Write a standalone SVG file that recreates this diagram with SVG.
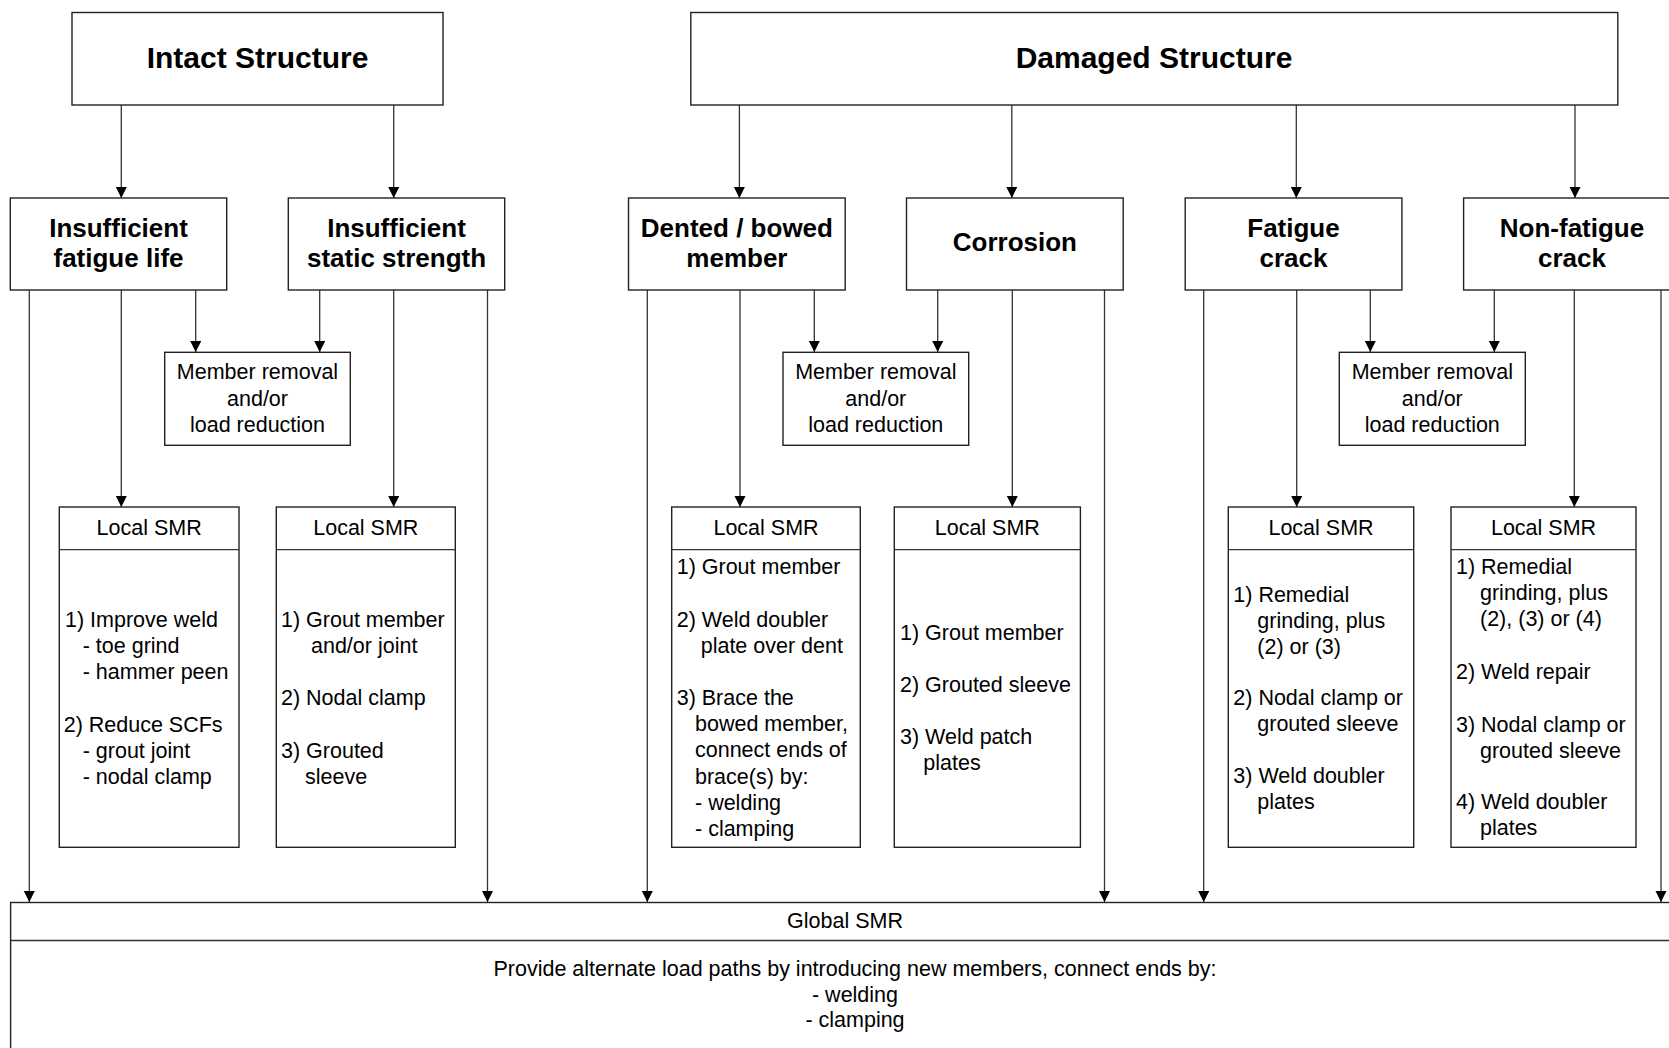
<svg xmlns="http://www.w3.org/2000/svg" width="1669" height="1048" viewBox="0 0 1669 1048">
<style>
.box{fill:#fff;stroke:#222;stroke-width:1.4}
.ln{stroke:#333;stroke-width:1.3;fill:none}
.t{font-family:"Liberation Sans",Arial,sans-serif;font-size:21.5px;fill:#000}
.c{text-anchor:middle}
.b{font-weight:bold;font-size:26px;text-anchor:middle}
.h{font-weight:bold;font-size:30px;text-anchor:middle}
</style>
<defs>
<marker id="arr" markerUnits="userSpaceOnUse" markerWidth="12" markerHeight="12" refX="11" refY="5.5" orient="auto">
<path d="M0,0 L11,5.5 L0,11 z" fill="#000"/>
</marker>
</defs>
<rect width="1669" height="1048" fill="#fff"/>

<g id="connectors" class="ln" marker-end="url(#arr)">
<line x1="121.3" y1="105" x2="121.3" y2="198"/>
<line x1="393.7" y1="105" x2="393.7" y2="198"/>
<line x1="739.4" y1="105" x2="739.4" y2="198"/>
<line x1="1011.8" y1="105" x2="1011.8" y2="198"/>
<line x1="1296.3" y1="105" x2="1296.3" y2="198"/>
<line x1="1575" y1="105" x2="1575" y2="198"/>
<line x1="29.3" y1="290" x2="29.3" y2="902"/>
<line x1="121.3" y1="290" x2="121.3" y2="507"/>
<line x1="195.7" y1="290" x2="195.7" y2="352"/>
<line x1="319.7" y1="290" x2="319.7" y2="352"/>
<line x1="393.7" y1="290" x2="393.7" y2="507"/>
<line x1="487.5" y1="290" x2="487.5" y2="902"/>
<line x1="647.3" y1="290" x2="647.3" y2="902"/>
<line x1="740" y1="290" x2="740" y2="507"/>
<line x1="814.3" y1="290" x2="814.3" y2="352"/>
<line x1="937.7" y1="290" x2="937.7" y2="352"/>
<line x1="1012.3" y1="290" x2="1012.3" y2="507"/>
<line x1="1104.5" y1="290" x2="1104.5" y2="902"/>
<line x1="1203.7" y1="290" x2="1203.7" y2="902"/>
<line x1="1296.7" y1="290" x2="1296.7" y2="507"/>
<line x1="1370.3" y1="290" x2="1370.3" y2="352"/>
<line x1="1494.3" y1="290" x2="1494.3" y2="352"/>
<line x1="1574.3" y1="290" x2="1574.3" y2="507"/>
<line x1="1661" y1="290" x2="1661" y2="902"/>
</g>

<g id="intact">
<rect class="box" x="72" y="12.5" width="371" height="92.5"/>
<text class="t h" x="257.5" y="68.3">Intact Structure</text>
</g>
<g id="damaged">
<rect class="box" x="690.8" y="12.5" width="927" height="92.5"/>
<text class="t h" x="1154" y="68.3">Damaged Structure</text>
</g>

<g id="insufficient-fatigue">
<rect class="box" x="10.3" y="198" width="216.4" height="92"/>
<text class="t b" x="118.5" y="236.7">Insufficient</text>
<text class="t b" x="118.5" y="266.7">fatigue life</text>
</g>
<g id="insufficient-static">
<rect class="box" x="288.3" y="198" width="216.4" height="92"/>
<text class="t b" x="396.5" y="236.7">Insufficient</text>
<text class="t b" x="396.5" y="266.7">static strength</text>
</g>
<g id="dented">
<rect class="box" x="628.5" y="198" width="216.7" height="92"/>
<text class="t b" x="736.9" y="236.7">Dented / bowed</text>
<text class="t b" x="736.9" y="266.7">member</text>
</g>
<g id="corrosion">
<rect class="box" x="906.5" y="198" width="216.7" height="92"/>
<text class="t b" x="1014.9" y="251">Corrosion</text>
</g>
<g id="fatigue-crack">
<rect class="box" x="1185.2" y="198" width="216.7" height="92"/>
<text class="t b" x="1293.5" y="236.7">Fatigue</text>
<text class="t b" x="1293.5" y="266.7">crack</text>
</g>
<g id="non-fatigue-crack">
<rect class="box" x="1463.6" y="198" width="216.7" height="92"/>
<text class="t b" x="1572" y="236.7">Non-fatigue</text>
<text class="t b" x="1572" y="266.7">crack</text>
</g>

<g id="member-removal-1">
<rect class="box" x="164.7" y="352.3" width="185.6" height="93"/>
<text class="t c" x="257.5" y="379">Member removal</text>
<text class="t c" x="257.5" y="405.5">and/or</text>
<text class="t c" x="257.5" y="431.7">load reduction</text>
</g>
<g id="member-removal-2">
<rect class="box" x="783" y="352.3" width="185.7" height="93"/>
<text class="t c" x="875.8" y="379">Member removal</text>
<text class="t c" x="875.8" y="405.5">and/or</text>
<text class="t c" x="875.8" y="431.7">load reduction</text>
</g>
<g id="member-removal-3">
<rect class="box" x="1339.3" y="352.3" width="186" height="93"/>
<text class="t c" x="1432.3" y="379">Member removal</text>
<text class="t c" x="1432.3" y="405.5">and/or</text>
<text class="t c" x="1432.3" y="431.7">load reduction</text>
</g>

<g id="local-smr-1">
<rect class="box" x="59.3" y="507" width="179.7" height="340.3"/>
<line class="ln" x1="59.3" y1="549.7" x2="239" y2="549.7"/>
<text class="t c" x="149.2" y="535">Local SMR</text>
<text class="t" x="65" y="626.7">1) Improve weld</text>
<text class="t" x="82.7" y="652.7">- toe grind</text>
<text class="t" x="82.7" y="679">- hammer peen</text>
<text class="t" x="63.7" y="731.7">2) Reduce SCFs</text>
<text class="t" x="82.7" y="757.7">- grout joint</text>
<text class="t" x="82.7" y="783.5">- nodal clamp</text>
</g>
<g id="local-smr-2">
<rect class="box" x="276.3" y="507" width="179" height="340.3"/>
<line class="ln" x1="276.3" y1="549.7" x2="455.3" y2="549.7"/>
<text class="t c" x="365.8" y="535">Local SMR</text>
<text class="t" x="281" y="626.7">1) Grout member</text>
<text class="t" x="311" y="652.7">and/or joint</text>
<text class="t" x="281" y="705">2) Nodal clamp</text>
<text class="t" x="281" y="757.7">3) Grouted</text>
<text class="t" x="305" y="783.7">sleeve</text>
</g>
<g id="local-smr-3">
<rect class="box" x="671.7" y="507" width="188.6" height="340.3"/>
<line class="ln" x1="671.7" y1="549.7" x2="860.3" y2="549.7"/>
<text class="t c" x="766" y="535">Local SMR</text>
<text class="t" x="676.7" y="574">1) Grout member</text>
<text class="t" x="676.7" y="626.7">2) Weld doubler</text>
<text class="t" x="700.7" y="652.7">plate over dent</text>
<text class="t" x="676.7" y="705">3) Brace the</text>
<text class="t" x="695" y="731">bowed member,</text>
<text class="t" x="695" y="757">connect ends of</text>
<text class="t" x="695" y="783.5">brace(s) by:</text>
<text class="t" x="695" y="810">- welding</text>
<text class="t" x="695" y="836">- clamping</text>
</g>
<g id="local-smr-4">
<rect class="box" x="894.3" y="507" width="186.1" height="340.3"/>
<line class="ln" x1="894.3" y1="549.7" x2="1080.4" y2="549.7"/>
<text class="t c" x="987.3" y="535">Local SMR</text>
<text class="t" x="900" y="640">1) Grout member</text>
<text class="t" x="900" y="691.7">2) Grouted sleeve</text>
<text class="t" x="900" y="744.3">3) Weld patch</text>
<text class="t" x="923.3" y="770">plates</text>
</g>
<g id="local-smr-5">
<rect class="box" x="1228.3" y="507" width="185.4" height="340.3"/>
<line class="ln" x1="1228.3" y1="549.7" x2="1413.7" y2="549.7"/>
<text class="t c" x="1321" y="535">Local SMR</text>
<text class="t" x="1233.3" y="601.7">1) Remedial</text>
<text class="t" x="1257.3" y="627.7">grinding, plus</text>
<text class="t" x="1257.3" y="653.7">(2) or (3)</text>
<text class="t" x="1233.3" y="705">2) Nodal clamp or</text>
<text class="t" x="1257.3" y="731">grouted sleeve</text>
<text class="t" x="1233.3" y="783.3">3) Weld doubler</text>
<text class="t" x="1257.3" y="809">plates</text>
</g>
<g id="local-smr-6">
<rect class="box" x="1451" y="507" width="185" height="340.3"/>
<line class="ln" x1="1451" y1="549.7" x2="1636" y2="549.7"/>
<text class="t c" x="1543.5" y="535">Local SMR</text>
<text class="t" x="1456" y="574">1) Remedial</text>
<text class="t" x="1480" y="600">grinding, plus</text>
<text class="t" x="1480" y="626">(2), (3) or (4)</text>
<text class="t" x="1456" y="679">2) Weld repair</text>
<text class="t" x="1456" y="731.7">3) Nodal clamp or</text>
<text class="t" x="1480" y="757.7">grouted sleeve</text>
<text class="t" x="1456" y="809.3">4) Weld doubler</text>
<text class="t" x="1480" y="835">plates</text>
</g>

<g id="global-smr">
<rect class="box" x="10.6" y="902.5" width="1670" height="160"/>
<line class="ln" x1="10.6" y1="940.5" x2="1680" y2="940.5"/>
<text class="t c" x="845" y="928">Global SMR</text>
<text class="t c" x="855" y="976">Provide alternate load paths by introducing new members, connect ends by:</text>
<text class="t c" x="855" y="1001.5">- welding</text>
<text class="t c" x="855" y="1027">- clamping</text>
</g>
</svg>
